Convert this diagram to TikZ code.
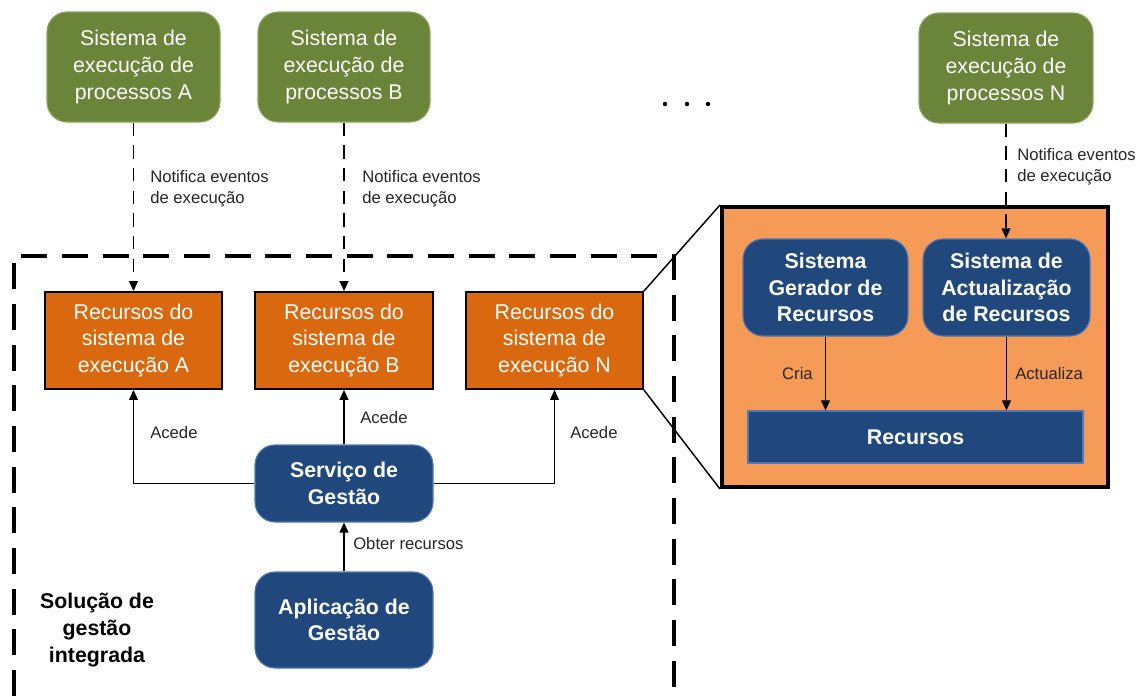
\documentclass[tikz,border=0pt]{standalone}
\usepackage{fontspec}
\setmainfont{Liberation Sans}
\usetikzlibrary{arrows.meta,calc}
\definecolor{grn}{RGB}{106,132,58}
\definecolor{grnline}{RGB}{140,165,95}
\definecolor{org}{RGB}{217,104,14}
\definecolor{lorg}{RGB}{245,155,87}
\definecolor{blu}{RGB}{32,72,125}
\definecolor{bluline}{RGB}{80,120,180}
\tikzset{
  dim/.style 2 args={minimum width=#1*0.75pt, minimum height=#2*0.75pt},
  bigtxt/.style={font=\fontsize{16}{20}\selectfont, align=center, inner sep=0pt},
  greenbox/.style={bigtxt, fill=grn, draw=grnline, line width=0.8pt, rounded corners=15pt, text=white},
  orangebox/.style={bigtxt, fill=org, draw=black, line width=1.3pt, text=white},
  bluebox/.style={bigtxt, fill=blu, draw=bluline, line width=0.8pt, rounded corners=15pt, text=white, font=\fontsize{16}{20}\selectfont\bfseries},
  barbox/.style={bigtxt, fill=blu, draw=bluline, line width=0.8pt, text=white, font=\fontsize{16}{20}\selectfont\bfseries},
  lbl/.style={font=\fontsize{12.5}{15.5}\selectfont, align=left, inner sep=0pt, text=black!85},
  arr/.style={line width=1.2pt, -{Triangle[length=7.5pt,width=6.5pt]}},
  dasharr/.style={line width=1.4pt, dash pattern=on 10pt off 7pt, -{Triangle[length=7.5pt,width=6.5pt]}},
  zoomline/.style={line width=1.1pt},
  frame/.style={line width=2.4pt, dash pattern=on 19.5pt off 11pt}
}
\begin{document}
\begin{tikzpicture}[x=0.75pt,y=-0.75pt]
\useasboundingbox (0,0) rectangle (1142,696);

% dashed frame
\coordinate (fbl) at (14,696);
\coordinate (ftl) at (14,256);
\coordinate (ftr) at (674,256);
\coordinate (fbr) at (674,696);
\draw[frame] (fbl) -- (ftl) -- (ftr) -- (fbr);

% green systems
\node[greenbox, dim={173}{110}] (gA) at (133.5,67) {Sistema de\\execução de\\processos A};
\node[greenbox, dim={172}{110}] (gB) at (344,67) {Sistema de\\execução de\\processos B};
\node[greenbox, dim={174}{110}] (gN) at (1006,68) {Sistema de\\execução de\\processos N};

% dots
\fill (665,104) circle (2.2);
\fill (687,104) circle (2.2);
\fill (708,104) circle (2.2);

% orange resource boxes
\node[orangebox, dim={177}{97}] (oA) at (133.5,340.5) {Recursos do\\sistema de\\execução A};
\node[orangebox, dim={178}{97}] (oB) at (344,340.5) {Recursos do\\sistema de\\execução B};
\node[orangebox, dim={177}{97}] (oN) at (554.5,340.5) {Recursos do\\sistema de\\execução N};

% management
\node[bluebox, dim={178}{77}] (serv) at (344,483.5) {Serviço de\\Gestão};
\node[bluebox, dim={178}{96}] (apl) at (344,620) {Aplicação de\\Gestão};

\node[font=\fontsize{16}{20}\selectfont\bfseries, align=center, inner sep=0pt] (sol) at (97,630) {Solução de\\gestão\\integrada};

% zoomed detail
\node[fill=lorg, draw=black, line width=3pt, dim={386}{280}, inner sep=0pt] (big) at (915,347) {};
\node[bluebox, dim={165}{97}] (gen) at (825.5,287.5) {Sistema\\Gerador de\\Recursos};
\node[bluebox, dim={167}{97}] (act) at (1006.5,287.5) {Sistema de\\Actualização\\de Recursos};
\node[barbox, dim={335}{52}] (rec) at (915.5,437) {Recursos};

\draw[zoomline] (oN.north east) -- (big.north west);
\draw[zoomline] (oN.south east) -- (big.south west);

% dashed notifications
\draw[dasharr] (gA.south) -- (oA.north);
\draw[dasharr] (gB.south) -- (oB.north);
\draw[dasharr] (gN.south) -- (gN.south |- act.north);
\node[lbl, anchor=west] (nA) at (150,188.5) {Notifica eventos\\de execução};
\node[lbl, anchor=west] (nB) at (362,188.5) {Notifica eventos\\de execução};
\node[lbl, anchor=west] (nN) at (1017,167) {Notifica eventos\\de execução};

% access
\draw[arr] (serv.west) -| (oA.south);
\draw[arr] (serv.north) -- (oB.south);
\draw[arr] (serv.east) -| (oN.south);
\draw[arr] (apl.north) -- (serv.south);
\node[lbl, anchor=west] (acA) at (150,433) {Acede};
\node[lbl, anchor=west] (acB) at (360,418) {Acede};
\node[lbl, anchor=west] (acN) at (570,433) {Acede};
\node[lbl, anchor=west] (obt) at (353,544) {Obter recursos};

% inside detail
\draw[arr] (gen.south) -- (gen.south |- rec.north);
\draw[arr] (act.south) -- (act.south |- rec.north);
\node[lbl, anchor=east] (cria) at (813,374) {Cria};
\node[lbl, anchor=west] (actz) at (1015,374) {Actualiza};
\end{tikzpicture}
\end{document}
